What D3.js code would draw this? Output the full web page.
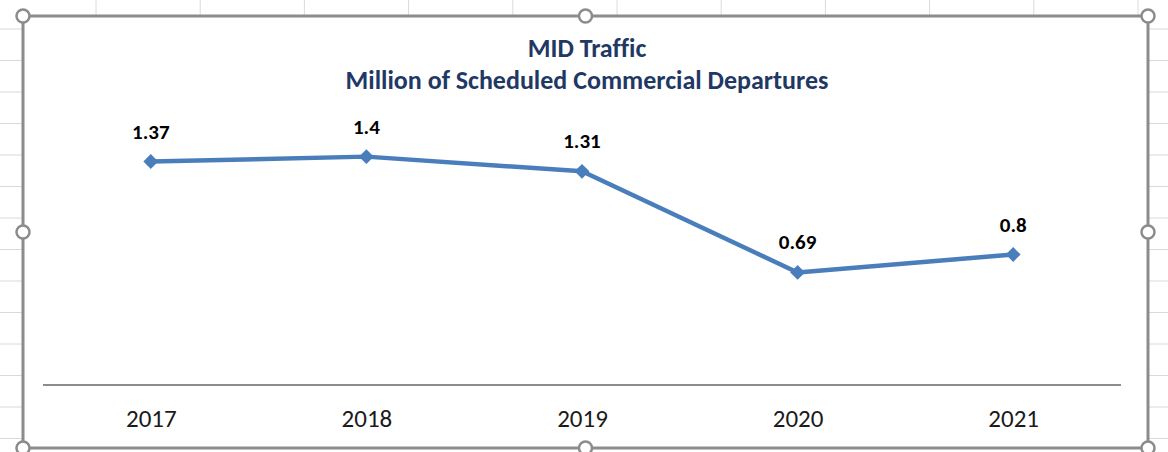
<!DOCTYPE html>
<html>
<head>
<meta charset="utf-8">
<script src="https://cdn.jsdelivr.net/npm/d3@7/dist/d3.min.js"></script>
<style>
  html, body { margin: 0; padding: 0; background: #fff; }
  svg { display: block; }
  text { font-variant-ligatures: none; }
</style>
</head>
<body>
<div id="chart"></div>
<script>
// Chart data.
var years = ["2017", "2018", "2019", "2020", "2021"];
var departures = [1.37, 1.4, 1.31, 0.69, 0.8];
var titleLines = ["MID Traffic", "Million of Scheduled Commercial Departures"];

// Page / frame configuration.
var width = 1168,
    height = 452,
    frame = { left: 23, top: 16, right: 1148, bottom: 448 },
    plot = { left: 43, right: 1121, top: 124, bottom: 385 },
    lineColor = "#4a7ebb",
    frameColor = "#8c8c8c",
    gridColor = "#dadada",
    fontFamily = "Calibri, Carlito, Lato, 'Open Sans', sans-serif";

var svg = d3.select("#chart").append("svg")
    .attr("width", width)
    .attr("height", height);

// Spreadsheet cell gridlines peeking out around the chart object.
var colLines = d3.range(96, width, 104.2),
    rowLines = d3.range(29, height, 31.5);
svg.append("g").selectAll("line").data(colLines).enter().append("line")
    .attr("x1", function(d) { return d; }).attr("x2", function(d) { return d; })
    .attr("y1", 0).attr("y2", frame.top)
    .attr("stroke", gridColor);
svg.append("g").selectAll("line").data(rowLines).enter().append("line")
    .attr("x1", 0).attr("x2", frame.left)
    .attr("y1", function(d) { return d; }).attr("y2", function(d) { return d; })
    .attr("stroke", gridColor);
svg.append("g").selectAll("line").data(rowLines).enter().append("line")
    .attr("x1", frame.right).attr("x2", width)
    .attr("y1", function(d) { return d; }).attr("y2", function(d) { return d; })
    .attr("stroke", gridColor);

// Chart area.
svg.append("rect")
    .attr("x", frame.left).attr("y", frame.top)
    .attr("width", frame.right - frame.left).attr("height", frame.bottom - frame.top)
    .attr("fill", "#fff");

// Scales.
var x = d3.scalePoint()
    .domain(years)
    .range([plot.left, plot.right])
    .padding(0.5);
var y = d3.scaleLinear()
    .domain([0, 1.6])
    .range([plot.bottom, plot.top]);

// Title.
svg.append("text")
    .attr("x", 587).attr("y", 57)
    .attr("text-anchor", "middle")
    .style("font-family", fontFamily)
    .style("font-weight", "bold")
    .style("font-size", "26px")
    .attr("fill", "#1f3864")
    .selectAll("tspan").data(titleLines).enter().append("tspan")
      .attr("x", 587)
      .attr("dy", function(d, i) { return i ? 32 : 0; })
      .text(function(d) { return d; });

// Category axis.
var xAxis = svg.append("g")
    .attr("transform", "translate(0," + y(0) + ")")
    .call(d3.axisBottom(x).tickSize(0).tickPadding(24));
xAxis.select(".domain")
    .attr("d", "M" + plot.left + ",0H" + plot.right)
    .attr("stroke", "#8c8c8c")
    .attr("stroke-width", 2);
xAxis.selectAll("text")
    .style("font-family", fontFamily)
    .style("font-size", "25px")
    .attr("fill", "#1a1a1a");

// Line series.
var points = years.map(function(d, i) { return { year: d, value: departures[i] }; });
var line = d3.line()
    .x(function(d) { return x(d.year); })
    .y(function(d) { return y(d.value); });

svg.append("path")
    .datum(points)
    .attr("d", line)
    .attr("fill", "none")
    .attr("stroke", lineColor)
    .attr("stroke-width", 4.5)
    .attr("stroke-linejoin", "round");

svg.append("g").selectAll("path").data(points).enter().append("path")
    .attr("d", d3.symbol().type(d3.symbolDiamond2).size(140))
    .attr("transform", function(d) { return "translate(" + x(d.year) + "," + y(d.value) + ")"; })
    .attr("fill", lineColor);

// Data labels.
svg.append("g").selectAll("text").data(points).enter().append("text")
    .attr("x", function(d) { return x(d.year); })
    .attr("y", function(d) { return y(d.value) - 23; })
    .attr("text-anchor", "middle")
    .style("font-family", fontFamily)
    .style("font-weight", "bold")
    .style("font-size", "21px")
    .attr("fill", "#000")
    .text(function(d) { return d.value; });

// Frame border and selection handles.
svg.append("rect")
    .attr("x", frame.left).attr("y", frame.top)
    .attr("width", frame.right - frame.left).attr("height", frame.bottom - frame.top)
    .attr("fill", "none")
    .attr("stroke", frameColor)
    .attr("stroke-width", 3);

var midX = (frame.left + frame.right) / 2,
    midY = (frame.top + frame.bottom) / 2;
var handles = [
  [frame.left, frame.top], [midX, frame.top], [frame.right, frame.top],
  [frame.left, midY], [frame.right, midY],
  [frame.left, frame.bottom], [midX, frame.bottom], [frame.right, frame.bottom]
];
svg.append("g").selectAll("circle").data(handles).enter().append("circle")
    .attr("cx", function(d) { return d[0]; })
    .attr("cy", function(d) { return d[1]; })
    .attr("r", 6.5)
    .attr("fill", "#fff")
    .attr("stroke", frameColor)
    .attr("stroke-width", 2.5);
</script>
</body>
</html>
